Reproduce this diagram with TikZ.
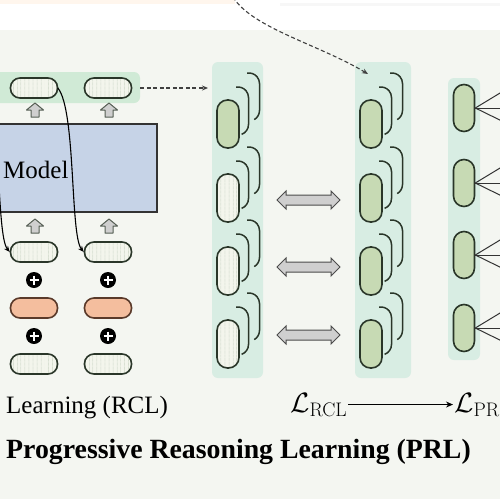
\documentclass[tikz,border=0pt]{standalone}
\usepackage{fix-cm}
\usepackage[no-math]{fontspec}
\setmainfont{Liberation Serif}
\usetikzlibrary{shapes.arrows,patterns.meta,arrows.meta,calc}
\definecolor{bgpage}{HTML}{F4F6F1}
\definecolor{bandmint}{HTML}{D8EDE3}
\definecolor{bandtop}{HTML}{D0EAD6}
\definecolor{tokgreen}{HTML}{C7DAB4}
\definecolor{tokline}{HTML}{2A3629}
\definecolor{tokstripe}{HTML}{B9C6B1}
\definecolor{tokpale}{HTML}{F3F5EC}
\definecolor{tokorange}{HTML}{F4BE9E}
\definecolor{tokbrown}{HTML}{5A3A2A}
\definecolor{modelblue}{HTML}{C6D3E7}
\definecolor{arrowgray}{HTML}{CFCFCF}

% two half outlines of the stacked pills behind a front pill at (#1,#2)
\newcommand{\stackarcs}[2]{%
  \draw[arcline] (#1+10,#2-26.5) ++(-100:10.5) arc[start angle=-100, end angle=0, radius=10.5]
    -- ++(0,27) arc[start angle=0, end angle=70, radius=10.5];
  \draw[arcline] (#1+21,#2-40.5) ++(-100:10.5) arc[start angle=-100, end angle=0, radius=10.5]
    -- ++(0,27) arc[start angle=0, end angle=60, radius=10.5];
}
% block arrow pointing up, centred at (#1,#2)
\newcommand{\upblock}[2]{%
  \draw[upfill] (#1,#2-7) -- (#1+8.5,#2) -- (#1+4,#2) -- (#1+4,#2+7)
    -- (#1-4,#2+7) -- (#1-4,#2) -- (#1-8.5,#2) -- cycle;
}

\begin{document}
\begin{tikzpicture}[x=1pt, y=-1pt,
    hpill/.style={draw=tokline, line width=1.6pt, rounded corners=9.5pt,
      minimum width=47pt, minimum height=20pt, inner sep=0pt},
    vpill/.style={draw=tokline, line width=1.6pt, rounded corners=10.5pt,
      minimum width=22pt, minimum height=48pt, inner sep=0pt},
    striped/.style={preaction={fill=tokpale},
      pattern={Lines[angle=90, distance=4pt, line width=0.7pt]}, pattern color=tokstripe},
    arcline/.style={draw=tokline, line width=1.5pt},
    upfill/.style={draw=tokline!80, fill=arrowgray, line width=1pt, line join=round},
    dblarrow/.style={double arrow, draw=black!70, fill=arrowgray, line width=1pt,
      minimum height=63pt, minimum width=18pt, double arrow head extend=4pt, inner sep=4.5pt},
    plusdot/.style={circle, fill=black, minimum size=16pt, inner sep=0pt,
      path picture={\draw[white, line width=2.2pt]
        ($(path picture bounding box.center)+(-4.5,0)$) -- ++(9,0)
        ($(path picture bounding box.center)+(0,-4.5)$) -- ++(0,9);}},
    curvearrow/.style={draw=black, line width=1.1pt, -{Stealth[length=6pt, width=5pt]}},
    dasharrow/.style={draw=black!75, line width=1.1pt, dash pattern=on 4pt off 2.5pt,
      -{Stealth[length=6pt, width=5pt]}},
    fanline/.style={draw=black!80, line width=1pt},
    lbl/.style={inner sep=0pt, font=\fontsize{25}{28}\selectfont}]

  \useasboundingbox (0,0) rectangle (500,499);
  \clip (0,0) rectangle (500,499);

  % page
  \fill[white] (0,0) rectangle (500,30);
  \fill[bgpage] (0,30) rectangle (500,499);
  \fill[orange!7] (0,0) rectangle (235,4);
  \fill[black!3] (280,3) rectangle (500,6);

  % bands
  \fill[bandtop, rounded corners=6pt] (-10,72) rectangle (140,103);
  \fill[bandmint, rounded corners=6pt] (212,62) rectangle (263,378);
  \fill[bandmint, rounded corners=6pt] (355,62) rectangle (411,378);
  \fill[bandmint, rounded corners=6pt] (448,78) rectangle (480,360);

  % model
  \node[draw=black!80, line width=1.5pt, fill=modelblue, minimum width=167pt,
    minimum height=88pt, inner sep=0pt] (model) at (73.5,168) {};
  \node[lbl, anchor=base west] (modeltxt) at (3,178) {Model};

  % left tokens
  \node[hpill, striped] (t1) at (34,88) {};
  \node[hpill, striped] (t2) at (108,88) {};
  \upblock{35}{110}
  \upblock{109}{110}
  \upblock{35}{226}
  \upblock{109}{226}
  \node[hpill, striped] (b1) at (34,252) {};
  \node[hpill, striped] (b2) at (108,252) {};
  \node[plusdot] (s1) at (34,280) {};
  \node[plusdot] (s2) at (108,280) {};
  \node[hpill, draw=tokbrown, fill=tokorange] (o1) at (34,308) {};
  \node[hpill, draw=tokbrown, fill=tokorange] (o2) at (108,308) {};
  \node[plusdot] (s3) at (34,336) {};
  \node[plusdot] (s4) at (108,336) {};
  \node[hpill, striped] (c1) at (34,364) {};
  \node[hpill, striped] (c2) at (108,364) {};

  \coordinate (tl) at (-16.5,88);
  \draw[curvearrow] (tl) .. controls (2,110) and (-4,235) .. (b1.west);
  \draw[curvearrow] (t1.east) .. controls (76,110) and (70,235) .. (b2.west);

  \coordinate (colin) at (208,88);
  \draw[dasharrow] ([xshift=8pt]t2.east) -- (colin);

  % stacked columns
  \foreach \r/\y in {1/124,2/198,3/271,4/344} {
    \stackarcs{228}{\y}
    \stackarcs{371}{\y}
    \node[vpill, fill=tokgreen] (m\r) at (371,\y) {};
  }
  \node[vpill, fill=tokgreen] (a1) at (228,124) {};
  \node[vpill, striped] (a2) at (228,198) {};
  \node[vpill, striped] (a3) at (228,271) {};
  \node[vpill, striped] (a4) at (228,344) {};

  \node[dblarrow] (d1) at (308.5,200) {};
  \node[dblarrow] (d2) at (308.5,267) {};
  \node[dblarrow] (d3) at (308.5,335) {};

  \coordinate (topsrc) at (233,-3);
  \coordinate (m1top) at (368,74);
  \draw[dasharrow] (topsrc) .. controls (252,28) and (320,45) .. (m1top);

  % output column
  \foreach \r/\y in {1/108,2/183,3/255,4/328} {
    \node[vpill, fill=tokgreen, minimum width=21pt, minimum height=47pt] (p\r) at (464,\y) {};
    \coordinate (f\r a) at (510,\y-21);
    \coordinate (f\r b) at (510,\y);
    \coordinate (f\r c) at (510,\y+17);
    \draw[fanline] (f\r a) -- (p\r.east) -- (f\r c);
    \draw[fanline] (p\r.east) -- (f\r b);
  }

  % losses
  \node[inner sep=1pt, anchor=base west, font=\fontsize{28}{30}\selectfont]
    (lrcl) at (289,412) {$\mathcal{L}_{\mathrm{RCL}}$};
  \node[inner sep=1pt, anchor=base west, font=\fontsize{28}{30}\selectfont]
    (lprl) at (453,412) {$\mathcal{L}_{\mathrm{PRL}}$};
  \draw[draw=black, line width=1pt, -{Stealth[length=7pt, width=6pt]}] (lrcl.east) -- (lprl.west);

  % captions
  \node[lbl, anchor=base west] (rcllbl) at (6,413) {Learning (RCL)};
  \node[inner sep=0pt, anchor=base west, font=\bfseries\fontsize{27.8}{30}\selectfont]
    (prllbl) at (6,458) {Progressive Reasoning Learning (PRL)};
\end{tikzpicture}
\end{document}
